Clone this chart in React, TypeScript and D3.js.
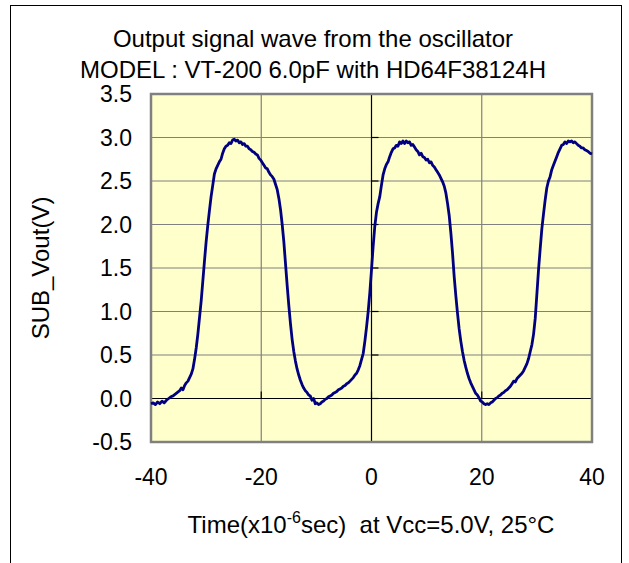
import { useEffect, useRef } from "react";
import * as d3 from "d3";

// sampled waveform, time in microseconds, volts
const TIME = [
  -40, -39.6, -39.2, -38.8, -38.4, -38, -37.6, -37.2, -36.8, -36.4, -36, -35.6, -35.2, -34.8, -34.5, -34.2,
  -33.9, -33.6, -33.3, -33, -32.7, -32.4, -32.1, -31.8, -31.5, -31.2, -30.9, -30.6, -30.3, -30, -29.7, -29.4,
  -29.1, -28.8, -28.5, -28.2, -27.9, -27.6, -27.3, -27, -26.7, -26.4, -26.1, -25.8, -25.5, -25.2, -24.9, -24.6,
  -24.3, -24, -23.7, -23.4, -23.1, -22.8, -22.5, -22.2, -21.9, -21.6, -21.3, -21, -20.7, -20.4, -20.1, -19.8,
  -19.5, -19.2, -18.9, -18.6, -18.3, -18, -17.7, -17.4, -17.1, -16.8, -16.5, -16.2, -15.9, -15.6, -15.3, -15,
  -14.7, -14.4, -14.1, -13.8, -13.5, -13.2, -12.9, -12.6, -12.3, -12, -11.7, -11.4, -11.1, -10.8, -10.5, -10.2,
  -9.9, -9.6, -9.3, -9, -8.7, -8.4, -8.1, -7.8, -7.5, -7.2, -6.9, -6.6, -6.3, -6, -5.7, -5.4, -5.1, -4.8, -4.5,
  -4.2, -3.9, -3.6, -3.3, -3, -2.7, -2.4, -2.1, -1.8, -1.5, -1.2, -0.9, -0.6, -0.3, 0, 0.3, 0.6, 0.9, 1.2, 1.5,
  1.8, 2.1, 2.4, 2.7, 3, 3.3, 3.6, 3.9, 4.2, 4.5, 4.8, 5.1, 5.4, 5.7, 6, 6.3, 6.6, 6.9, 7.2, 7.5, 7.8, 8.1, 8.4,
  8.7, 9, 9.3, 9.6, 9.9, 10.2, 10.5, 10.8, 11.1, 11.4, 11.7, 12, 12.3, 12.6, 12.9, 13.2, 13.5, 13.8, 14.1, 14.4,
  14.7, 15, 15.3, 15.6, 15.9, 16.2, 16.5, 16.8, 17.1, 17.4, 17.7, 18, 18.3, 18.6, 18.9, 19.2, 19.5, 19.8, 20.1,
  20.4, 20.7, 21, 21.3, 21.6, 21.9, 22.2, 22.5, 22.8, 23.1, 23.4, 23.7, 24, 24.3, 24.6, 24.9, 25.2, 25.5, 25.8,
  26.1, 26.4, 26.7, 27, 27.3, 27.6, 27.9, 28.2, 28.5, 28.8, 29.1, 29.4, 29.7, 30, 30.3, 30.6, 30.9, 31.2, 31.5,
  31.8, 32.1, 32.4, 32.7, 33, 33.3, 33.6, 33.9, 34.2, 34.5, 34.8, 35.1, 35.4, 35.7, 36, 36.3, 36.6, 36.9, 37.2,
  37.5, 37.8, 38.1, 38.4, 38.7, 39, 39.3, 39.6, 40,
];
const VOUT = [
  -0.06, -0.05, -0.07, -0.04, -0.06, -0.03, -0.05, -0.02, 0.0, 0.02, 0.03, 0.05, 0.07, 0.09, 0.12, 0.1,
  0.15, 0.18, 0.2, 0.24, 0.28, 0.34, 0.45, 0.58, 0.74, 0.93, 1.12, 1.35, 1.58, 1.8, 1.99, 2.16,
  2.32, 2.45, 2.58, 2.64, 2.68, 2.72, 2.75, 2.82, 2.87, 2.9, 2.91, 2.94, 2.93, 2.97, 2.98, 2.96,
  2.97, 2.94, 2.95, 2.92, 2.93, 2.9, 2.9, 2.87, 2.86, 2.84, 2.83, 2.81, 2.8, 2.76, 2.74, 2.71,
  2.68, 2.65, 2.64, 2.6, 2.57, 2.55, 2.52, 2.46, 2.4, 2.3, 2.17, 2.0, 1.8, 1.55, 1.3, 1.07,
  0.86, 0.68, 0.54, 0.43, 0.34, 0.27, 0.21, 0.16, 0.12, 0.09, 0.07, 0.04, 0.03, -0.02, 0.0, -0.06,
  -0.05, -0.07, -0.06, -0.04, -0.03, -0.01, 0.0, 0.02, 0.03, 0.04, 0.06, 0.07, 0.08, 0.1, 0.11, 0.12, 0.14, 0.15, 0.17,
  0.18, 0.2, 0.22, 0.24, 0.27, 0.29, 0.33, 0.38, 0.45, 0.52, 0.66, 0.82, 1.0, 1.22, 1.48, 1.75, 1.98, 2.14, 2.24, 2.32,
  2.45, 2.57, 2.64, 2.69, 2.72, 2.78, 2.83, 2.87, 2.88, 2.91, 2.9, 2.95, 2.93, 2.96, 2.93, 2.96, 2.94, 2.95, 2.91, 2.92, 2.89, 2.86, 2.84,
  2.8, 2.82, 2.78, 2.77, 2.74, 2.75, 2.71, 2.72, 2.68, 2.66, 2.63, 2.6, 2.57, 2.53, 2.49, 2.44, 2.36, 2.24, 2.1, 1.9,
  1.67, 1.4, 1.18, 0.98, 0.8, 0.66, 0.54, 0.44, 0.36, 0.29, 0.23, 0.18, 0.14, 0.1, 0.06, 0.04, 0.01, -0.03, -0.04,
  -0.06, -0.07, -0.06, -0.07, -0.05, -0.04, -0.02, 0.0, 0.01, 0.03, 0.04, 0.06, 0.07, 0.09, 0.1, 0.12, 0.14, 0.17, 0.2,
  0.19, 0.23, 0.25, 0.27, 0.29, 0.32, 0.36, 0.4, 0.46, 0.54, 0.62, 0.74, 0.92, 1.2, 1.48, 1.72, 1.95, 2.12, 2.28,
  2.42, 2.5, 2.55, 2.63, 2.68, 2.73, 2.78, 2.83, 2.87, 2.91, 2.92, 2.95, 2.93, 2.96, 2.95, 2.96, 2.94, 2.95, 2.93,
  2.91, 2.9, 2.88, 2.88, 2.86, 2.85, 2.84, 2.82, 2.81,
];

const X_TICKS = [-40, -20, 0, 20, 40];
const Y_TICKS = [-0.5, 0, 0.5, 1, 1.5, 2, 2.5, 3, 3.5];
const TITLE = ["Output signal wave from the oscillator", "MODEL : VT-200 6.0pF with HD64F38124H"];

const FONT = "'Liberation Sans', Arial, sans-serif";

export default function App() {
  const svgRef = useRef<SVGSVGElement>(null);

  useEffect(() => {
    if (!svgRef.current) return;
    const svg = d3.select(svgRef.current);
    svg.selectAll("*").remove();

    const W = 629;
    const H = 563;
    const plot = { left: 151, top: 94, right: 592, bottom: 442 };

    const x = d3.scaleLinear().domain([-40, 40]).range([plot.left, plot.right]);
    const y = d3.scaleLinear().domain([-0.5, 3.5]).range([plot.bottom, plot.top]);

    svg.attr("width", W).attr("height", H);

    // outer frame
    svg.append("rect")
      .attr("x", 10.5).attr("y", 5.5).attr("width", 611).attr("height", 580)
      .attr("fill", "white").attr("stroke", "black").attr("stroke-width", 1);

    // title
    svg.selectAll(".title").data(TITLE).enter()
      .append("text")
      .attr("x", 313).attr("y", (_, i) => 47 + i * 31)
      .attr("text-anchor", "middle").attr("font-family", FONT).attr("font-size", 24)
      .text((d) => d);

    // plot background
    svg.append("rect")
      .attr("x", plot.left).attr("y", plot.top)
      .attr("width", plot.right - plot.left).attr("height", plot.bottom - plot.top)
      .attr("fill", "#ffffcc");

    // grid
    svg.selectAll(".grid-h").data(Y_TICKS.filter((d) => d !== 0 && d !== 3.5 && d !== -0.5)).enter()
      .append("line")
      .attr("x1", plot.left).attr("x2", plot.right)
      .attr("y1", (d) => y(d)).attr("y2", (d) => y(d))
      .attr("stroke", "#808080").attr("stroke-width", 1.2);

    svg.selectAll(".grid-v").data(X_TICKS.filter((d) => d !== 0 && Math.abs(d) !== 40)).enter()
      .append("line")
      .attr("x1", (d) => x(d)).attr("x2", (d) => x(d))
      .attr("y1", plot.top).attr("y2", plot.bottom)
      .attr("stroke", "#808080").attr("stroke-width", 1.2);

    // axes crossing at the origin
    svg.append("line")
      .attr("x1", plot.left).attr("x2", plot.right).attr("y1", y(0)).attr("y2", y(0))
      .attr("stroke", "black").attr("stroke-width", 1.2);
    svg.append("line")
      .attr("x1", x(0)).attr("x2", x(0)).attr("y1", plot.top).attr("y2", plot.bottom)
      .attr("stroke", "black").attr("stroke-width", 1.2);

    svg.selectAll(".xtick").data(X_TICKS).enter()
      .append("line")
      .attr("x1", (d) => x(d)).attr("x2", (d) => x(d))
      .attr("y1", y(0)).attr("y2", y(0) - 7)
      .attr("stroke", "black").attr("stroke-width", 1.2);

    svg.selectAll(".ytick").data(Y_TICKS).enter()
      .append("line")
      .attr("x1", x(0)).attr("x2", x(0) + 7)
      .attr("y1", (d) => y(d)).attr("y2", (d) => y(d))
      .attr("stroke", "black").attr("stroke-width", 1.2);

    // plot border
    svg.append("rect")
      .attr("x", plot.left).attr("y", plot.top)
      .attr("width", plot.right - plot.left).attr("height", plot.bottom - plot.top)
      .attr("fill", "none").attr("stroke", "#808080").attr("stroke-width", 2.5);

    // waveform
    const pts: [number, number][] = TIME.map((t, i) => [t, VOUT[i]]);
    const line = d3.line<[number, number]>().x((d) => x(d[0])).y((d) => y(d[1]));
    svg.append("path")
      .attr("d", line(pts))
      .attr("fill", "none").attr("stroke", "#000080").attr("stroke-width", 2.8)
      .attr("stroke-linejoin", "round");

    // tick labels
    svg.selectAll(".ylab").data(Y_TICKS).enter()
      .append("text")
      .attr("x", 132).attr("y", (d) => y(d) + 8)
      .attr("text-anchor", "end").attr("font-family", FONT).attr("font-size", 23)
      .text((d) => d.toFixed(1));

    svg.selectAll(".xlab").data(X_TICKS).enter()
      .append("text")
      .attr("x", (d) => x(d)).attr("y", 485)
      .attr("text-anchor", "middle").attr("font-family", FONT).attr("font-size", 23)
      .text((d) => String(d));

    // axis titles
    svg.append("text")
      .attr("transform", `translate(49,${(plot.top + plot.bottom) / 2}) rotate(-90)`)
      .attr("text-anchor", "middle").attr("font-family", FONT).attr("font-size", 24)
      .text("SUB_Vout(V)");

    const xt = svg.append("text")
      .attr("x", 371).attr("y", 533)
      .attr("text-anchor", "middle").attr("font-family", FONT).attr("font-size", 24)
      .style("white-space", "pre");
    xt.append("tspan").text("Time(x10");
    xt.append("tspan").attr("dy", -10).attr("font-size", 16).text("-6");
    xt.append("tspan").attr("dy", 10).text("sec)  at Vcc=5.0V, 25°C");
  }, []);

  return (
    <svg ref={svgRef} style={{ position: "absolute", left: 0, top: 0, display: "block" }} />
  );
}
